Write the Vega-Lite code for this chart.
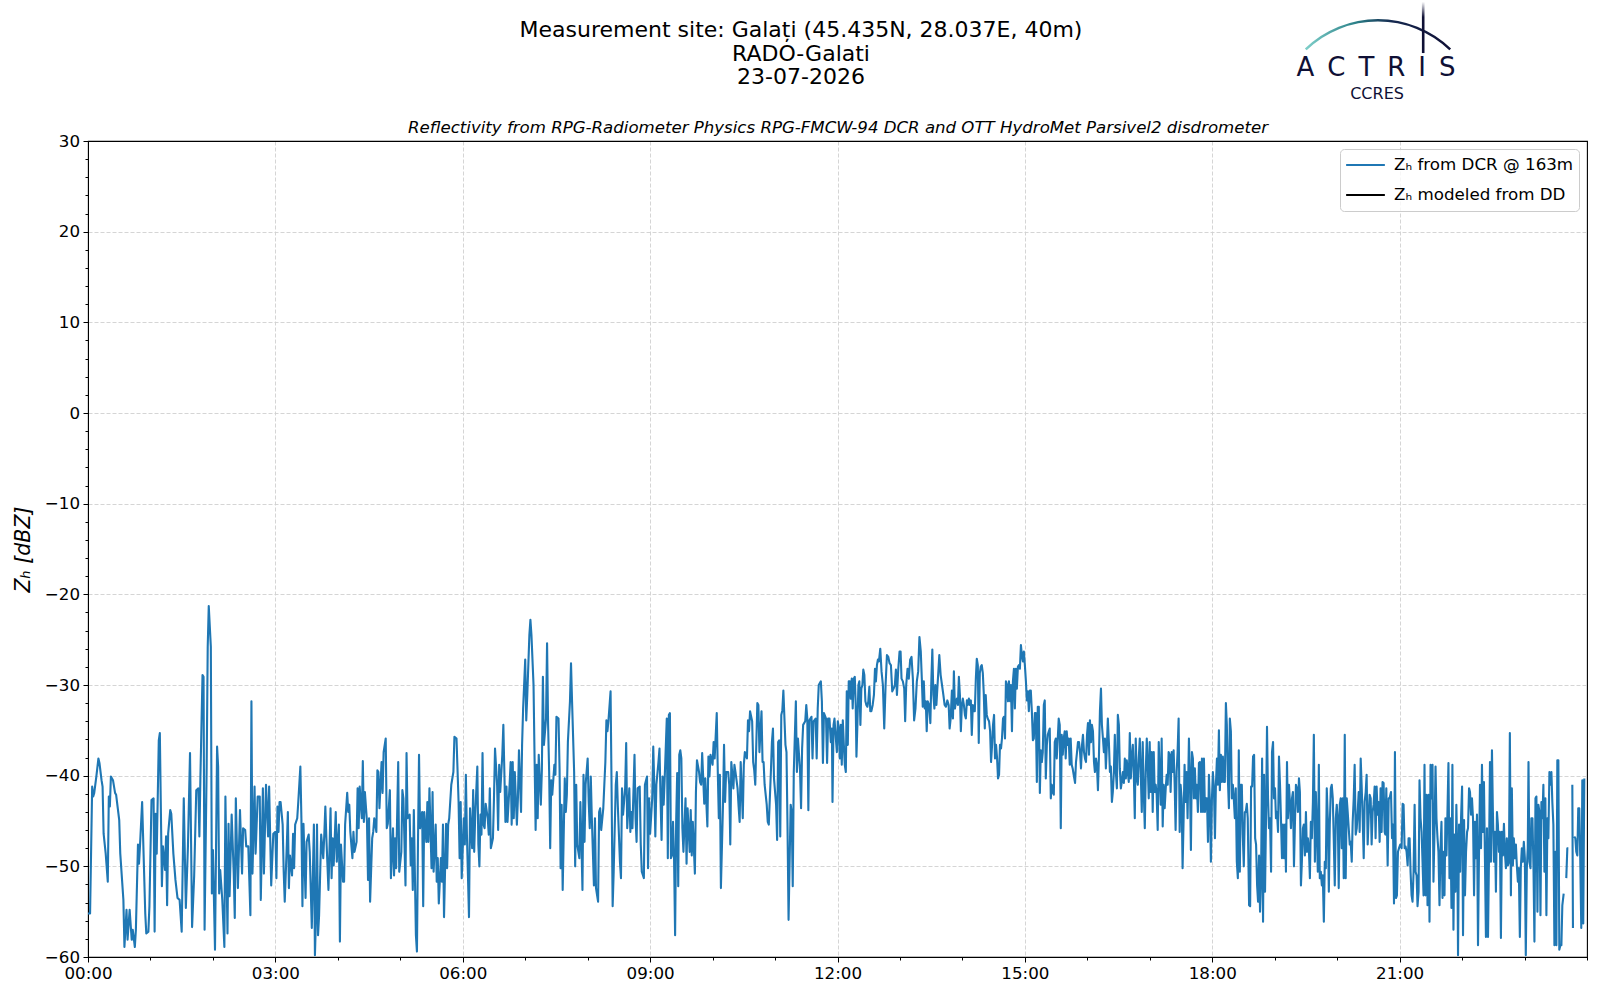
{
  "$schema": "https://vega.github.io/schema/vega-lite/v6.json",
  "width": 1499,
  "height": 816,
  "autosize": "none",
  "padding": {"left": 88, "top": 141, "right": 13, "bottom": 43},
  "background": "white",
  "config": {
    "font": "DejaVu Sans",
    "view": {"stroke": "black", "strokeWidth": 1.1},
    "axis": {
      "labelFont": "DejaVu Sans",
      "labelFontSize": 16.7,
      "labelColor": "black",
      "tickColor": "black",
      "domainColor": "black",
      "titleFont": "DejaVu Sans",
      "titleColor": "black",
      "titleFontWeight": "normal",
      "labelOverlap": false,
      "labelBound": false,
      "labelFlush": false
    },
    "legend": {
      "orient": "top-right",
      "offset": 8,
      "padding": 5,
      "symbolType": "stroke",
      "symbolStrokeWidth": 2,
      "symbolSize": 1500,
      "clipHeight": 22,
      "labelFont": "DejaVu Sans",
      "labelFontSize": 16.7,
      "labelColor": "black",
      "labelOffset": 8,
      "labelLimit": 400,
      "rowPadding": 8,
      "strokeColor": "#cccccc",
      "fillColor": "rgba(255,255,255,0.8)",
      "cornerRadius": 4
    }
  },
  "title": {
    "text": ["Measurement site: Galați (45.435N, 28.037E, 40m)", "RADO-Galati", "23-07-2026"],
    "anchor": "middle",
    "frame": "group",
    "dx": -36.5,
    "offset": -87.5,
    "font": "DejaVu Sans",
    "fontSize": 22,
    "fontWeight": "normal",
    "color": "black",
    "lineHeight": 23.6
  },
  "datasets": {
    "dcr": [
      {"minute": 0, "zh": -55.2}, {"minute": 2, "zh": -55.2}, {"minute": 4, "zh": -41.2}, {"minute": 5, "zh": -42.3}, {"minute": 6, "zh": -41.9}, {"minute": 8, "zh": -40.1}, {"minute": 10, "zh": -38.1}, {"minute": 11, "zh": -38.6}, {"minute": 13, "zh": -40.5}, {"minute": 14, "zh": -41.2}, {"minute": 15, "zh": -46.4}, {"minute": 17, "zh": -48.6}, {"minute": 19, "zh": -51.7}, {"minute": 20, "zh": -42.3}, {"minute": 21, "zh": -43.4}, {"minute": 22, "zh": -40.1}, {"minute": 24, "zh": -40.5}, {"minute": 26, "zh": -41.9}, {"minute": 27, "zh": -42.1}, {"minute": 30, "zh": -44.9}, {"minute": 31, "zh": -48.6}, {"minute": 34, "zh": -53.7}, {"minute": 35, "zh": -58.9}, {"minute": 37, "zh": -54.8}, {"minute": 38, "zh": -58.1}, {"minute": 40, "zh": -54.8}, {"minute": 42, "zh": -58.1}, {"minute": 43, "zh": -57.0}, {"minute": 45, "zh": -58.9}, {"minute": 46, "zh": -57.0}, {"minute": 48, "zh": -47.6}, {"minute": 49, "zh": -49.7}, {"minute": 50, "zh": -47.6}, {"minute": 52, "zh": -42.9}, {"minute": 55, "zh": -55.2}, {"minute": 56, "zh": -57.4}, {"minute": 58, "zh": -57.2}, {"minute": 59, "zh": -54.4}, {"minute": 61, "zh": -42.7}, {"minute": 63, "zh": -42.5}, {"minute": 64, "zh": -57.2}, {"minute": 65, "zh": -44.2}, {"minute": 66, "zh": -48.6}, {"minute": 68, "zh": -36.1}, {"minute": 69, "zh": -35.3}, {"minute": 71, "zh": -52.2}, {"minute": 72, "zh": -47.8}, {"minute": 74, "zh": -50.4}, {"minute": 75, "zh": -46.7}, {"minute": 76, "zh": -54.3}, {"minute": 77, "zh": -46.4}, {"minute": 79, "zh": -43.8}, {"minute": 80, "zh": -44.2}, {"minute": 82, "zh": -48.6}, {"minute": 84, "zh": -51.5}, {"minute": 86, "zh": -53.5}, {"minute": 88, "zh": -53.7}, {"minute": 90, "zh": -57.2}, {"minute": 92, "zh": -42.5}, {"minute": 94, "zh": -54.6}, {"minute": 96, "zh": -47.8}, {"minute": 98, "zh": -37.5}, {"minute": 100, "zh": -56.7}, {"minute": 102, "zh": -51.0}, {"minute": 104, "zh": -41.6}, {"minute": 106, "zh": -41.4}, {"minute": 107, "zh": -46.7}, {"minute": 108, "zh": -40.1}, {"minute": 110, "zh": -28.9}, {"minute": 111, "zh": -29.1}, {"minute": 112, "zh": -57.0}, {"minute": 114, "zh": -39.0}, {"minute": 115, "zh": -25.8}, {"minute": 116, "zh": -21.3}, {"minute": 118, "zh": -25.8}, {"minute": 119, "zh": -53.0}, {"minute": 120, "zh": -48.2}, {"minute": 122, "zh": -59.2}, {"minute": 124, "zh": -36.8}, {"minute": 125, "zh": -39.0}, {"minute": 126, "zh": -53.0}, {"minute": 127, "zh": -50.4}, {"minute": 129, "zh": -53.7}, {"minute": 131, "zh": -58.9}, {"minute": 132, "zh": -42.3}, {"minute": 134, "zh": -57.4}, {"minute": 135, "zh": -45.3}, {"minute": 136, "zh": -53.3}, {"minute": 138, "zh": -44.3}, {"minute": 140, "zh": -50.8}, {"minute": 141, "zh": -55.7}, {"minute": 142, "zh": -42.5}, {"minute": 144, "zh": -52.4}, {"minute": 146, "zh": -43.8}, {"minute": 148, "zh": -50.8}, {"minute": 149, "zh": -45.8}, {"minute": 151, "zh": -46.0}, {"minute": 152, "zh": -47.8}, {"minute": 154, "zh": -47.8}, {"minute": 156, "zh": -55.4}, {"minute": 157, "zh": -31.8}, {"minute": 158, "zh": -50.8}, {"minute": 160, "zh": -41.2}, {"minute": 161, "zh": -48.6}, {"minute": 163, "zh": -42.3}, {"minute": 165, "zh": -42.3}, {"minute": 166, "zh": -53.7}, {"minute": 168, "zh": -41.4}, {"minute": 169, "zh": -50.8}, {"minute": 171, "zh": -41.0}, {"minute": 173, "zh": -46.7}, {"minute": 174, "zh": -41.2}, {"minute": 176, "zh": -52.1}, {"minute": 178, "zh": -46.4}, {"minute": 180, "zh": -46.2},
      {"minute": 181, "zh": -51.3}, {"minute": 182, "zh": -43.4}, {"minute": 183, "zh": -46.2}, {"minute": 184, "zh": -42.9}, {"minute": 185, "zh": -42.9}, {"minute": 187, "zh": -45.4}, {"minute": 188, "zh": -50.6}, {"minute": 189, "zh": -53.9}, {"minute": 191, "zh": -47.6}, {"minute": 192, "zh": -44.0}, {"minute": 193, "zh": -52.4}, {"minute": 194, "zh": -48.8}, {"minute": 196, "zh": -51.0}, {"minute": 197, "zh": -46.4}, {"minute": 198, "zh": -50.2}, {"minute": 199, "zh": -45.4}, {"minute": 201, "zh": -44.7}, {"minute": 202, "zh": -42.9}, {"minute": 204, "zh": -39.0}, {"minute": 205, "zh": -44.7}, {"minute": 206, "zh": -54.4}, {"minute": 207, "zh": -45.3}, {"minute": 209, "zh": -53.5}, {"minute": 210, "zh": -47.3}, {"minute": 212, "zh": -46.5}, {"minute": 213, "zh": -48.4}, {"minute": 215, "zh": -56.8}, {"minute": 217, "zh": -45.4}, {"minute": 218, "zh": -59.8}, {"minute": 219, "zh": -55.7}, {"minute": 220, "zh": -45.4}, {"minute": 221, "zh": -57.6}, {"minute": 222, "zh": -55.4}, {"minute": 224, "zh": -46.5}, {"minute": 226, "zh": -49.1}, {"minute": 227, "zh": -46.5}, {"minute": 228, "zh": -43.4}, {"minute": 229, "zh": -46.9}, {"minute": 231, "zh": -52.6}, {"minute": 233, "zh": -43.6}, {"minute": 234, "zh": -51.3}, {"minute": 235, "zh": -46.9}, {"minute": 236, "zh": -49.9}, {"minute": 238, "zh": -44.0}, {"minute": 239, "zh": -49.5}, {"minute": 241, "zh": -45.4}, {"minute": 242, "zh": -58.3}, {"minute": 243, "zh": -47.6}, {"minute": 245, "zh": -51.7}, {"minute": 246, "zh": -51.7}, {"minute": 247, "zh": -45.4}, {"minute": 249, "zh": -41.9}, {"minute": 250, "zh": -44.0}, {"minute": 251, "zh": -43.2}, {"minute": 252, "zh": -46.2}, {"minute": 254, "zh": -49.1}, {"minute": 255, "zh": -46.2}, {"minute": 256, "zh": -48.4}, {"minute": 258, "zh": -47.3}, {"minute": 259, "zh": -41.4}, {"minute": 260, "zh": -45.8}, {"minute": 261, "zh": -41.2}, {"minute": 263, "zh": -44.7}, {"minute": 264, "zh": -38.4}, {"minute": 265, "zh": -45.1}, {"minute": 266, "zh": -41.8}, {"minute": 268, "zh": -45.1}, {"minute": 269, "zh": -51.5}, {"minute": 270, "zh": -44.7}, {"minute": 271, "zh": -53.9}, {"minute": 273, "zh": -46.9}, {"minute": 274, "zh": -46.2}, {"minute": 275, "zh": -44.7}, {"minute": 277, "zh": -46.2}, {"minute": 278, "zh": -39.4}, {"minute": 279, "zh": -39.6}, {"minute": 280, "zh": -43.6}, {"minute": 282, "zh": -38.5}, {"minute": 283, "zh": -41.9}, {"minute": 284, "zh": -37.4}, {"minute": 286, "zh": -35.9}, {"minute": 287, "zh": -45.8}, {"minute": 288, "zh": -45.3}, {"minute": 290, "zh": -41.6}, {"minute": 291, "zh": -51.3}, {"minute": 293, "zh": -45.8}, {"minute": 294, "zh": -51.0}, {"minute": 295, "zh": -46.9}, {"minute": 296, "zh": -50.2}, {"minute": 298, "zh": -38.5}, {"minute": 299, "zh": -50.6}, {"minute": 301, "zh": -48.4}, {"minute": 302, "zh": -41.6}, {"minute": 303, "zh": -42.5}, {"minute": 305, "zh": -52.1}, {"minute": 306, "zh": -37.5}, {"minute": 307, "zh": -44.7}, {"minute": 309, "zh": -44.3}, {"minute": 310, "zh": -49.9}, {"minute": 311, "zh": -46.9}, {"minute": 312, "zh": -52.6}, {"minute": 313, "zh": -43.8}, {"minute": 315, "zh": -57.6}, {"minute": 316, "zh": -59.4}, {"minute": 317, "zh": -47.3}, {"minute": 318, "zh": -37.7}, {"minute": 319, "zh": -45.8}, {"minute": 321, "zh": -44.0}, {"minute": 322, "zh": -54.4}, {"minute": 323, "zh": -44.0}, {"minute": 325, "zh": -47.3}, {"minute": 326, "zh": -42.9}, {"minute": 327, "zh": -47.3}, {"minute": 328, "zh": -41.4}, {"minute": 330, "zh": -50.2}, {"minute": 331, "zh": -41.8}, {"minute": 332, "zh": -50.6}, {"minute": 334, "zh": -45.4}, {"minute": 335, "zh": -51.7}, {"minute": 336, "zh": -49.1}, {"minute": 337, "zh": -54.1}, {"minute": 339, "zh": -49.1}, {"minute": 340, "zh": -51.7}, {"minute": 341, "zh": -45.4}, {"minute": 342, "zh": -55.6}, {"minute": 344, "zh": -45.3}, {"minute": 345, "zh": -50.2}, {"minute": 346, "zh": -45.4}, {"minute": 347, "zh": -44.7}, {"minute": 349, "zh": -41.0}, {"minute": 351, "zh": -39.6}, {"minute": 352, "zh": -35.7}, {"minute": 354, "zh": -35.9}, {"minute": 356, "zh": -42.9},
      {"minute": 357, "zh": -49.1}, {"minute": 358, "zh": -42.9}, {"minute": 359, "zh": -51.3}, {"minute": 361, "zh": -44.7}, {"minute": 362, "zh": -47.6}, {"minute": 363, "zh": -39.9}, {"minute": 364, "zh": -46.5}, {"minute": 366, "zh": -55.6}, {"minute": 367, "zh": -43.6}, {"minute": 369, "zh": -48.0}, {"minute": 370, "zh": -41.6}, {"minute": 371, "zh": -48.4}, {"minute": 372, "zh": -44.3}, {"minute": 374, "zh": -39.0}, {"minute": 375, "zh": -47.6}, {"minute": 376, "zh": -50.0}, {"minute": 377, "zh": -44.3}, {"minute": 378, "zh": -46.5}, {"minute": 379, "zh": -37.5}, {"minute": 380, "zh": -45.4}, {"minute": 381, "zh": -45.8}, {"minute": 382, "zh": -43.1}, {"minute": 384, "zh": -44.7}, {"minute": 385, "zh": -46.5}, {"minute": 386, "zh": -41.4}, {"minute": 387, "zh": -48.0}, {"minute": 389, "zh": -46.9}, {"minute": 390, "zh": -42.5}, {"minute": 391, "zh": -37.0}, {"minute": 393, "zh": -41.0}, {"minute": 394, "zh": -46.0}, {"minute": 395, "zh": -38.8}, {"minute": 396, "zh": -41.8}, {"minute": 398, "zh": -37.7}, {"minute": 399, "zh": -34.4}, {"minute": 401, "zh": -45.1}, {"minute": 402, "zh": -41.2}, {"minute": 403, "zh": -45.1}, {"minute": 405, "zh": -41.0}, {"minute": 406, "zh": -38.5}, {"minute": 407, "zh": -45.4}, {"minute": 408, "zh": -38.5}, {"minute": 409, "zh": -44.7}, {"minute": 410, "zh": -39.6}, {"minute": 412, "zh": -45.4}, {"minute": 413, "zh": -42.5}, {"minute": 414, "zh": -37.2}, {"minute": 416, "zh": -44.0}, {"minute": 417, "zh": -36.6}, {"minute": 418, "zh": -32.6}, {"minute": 420, "zh": -27.2}, {"minute": 421, "zh": -33.9}, {"minute": 422, "zh": -31.1}, {"minute": 424, "zh": -24.5}, {"minute": 425, "zh": -22.8}, {"minute": 426, "zh": -24.5}, {"minute": 428, "zh": -30.0}, {"minute": 429, "zh": -38.1}, {"minute": 430, "zh": -46.0}, {"minute": 431, "zh": -38.8}, {"minute": 432, "zh": -44.7}, {"minute": 433, "zh": -37.7}, {"minute": 435, "zh": -43.2}, {"minute": 436, "zh": -39.4}, {"minute": 437, "zh": -29.1}, {"minute": 438, "zh": -36.6}, {"minute": 440, "zh": -33.7}, {"minute": 441, "zh": -25.4}, {"minute": 442, "zh": -34.4}, {"minute": 443, "zh": -39.6}, {"minute": 444, "zh": -48.0}, {"minute": 445, "zh": -40.5}, {"minute": 446, "zh": -42.1}, {"minute": 448, "zh": -38.8}, {"minute": 449, "zh": -39.9}, {"minute": 450, "zh": -33.5}, {"minute": 452, "zh": -33.7}, {"minute": 453, "zh": -39.2}, {"minute": 454, "zh": -50.2}, {"minute": 455, "zh": -43.2}, {"minute": 456, "zh": -52.6}, {"minute": 458, "zh": -40.3}, {"minute": 459, "zh": -44.0}, {"minute": 460, "zh": -42.1}, {"minute": 461, "zh": -36.3}, {"minute": 463, "zh": -31.8}, {"minute": 464, "zh": -27.6}, {"minute": 465, "zh": -31.8}, {"minute": 467, "zh": -39.6}, {"minute": 468, "zh": -50.0}, {"minute": 469, "zh": -41.0}, {"minute": 470, "zh": -47.6}, {"minute": 472, "zh": -49.1}, {"minute": 473, "zh": -42.9}, {"minute": 474, "zh": -47.3}, {"minute": 475, "zh": -52.6}, {"minute": 476, "zh": -39.9}, {"minute": 477, "zh": -47.3}, {"minute": 478, "zh": -41.0}, {"minute": 480, "zh": -38.1}, {"minute": 481, "zh": -42.9}, {"minute": 482, "zh": -45.8}, {"minute": 483, "zh": -40.1}, {"minute": 484, "zh": -44.7}, {"minute": 486, "zh": -52.1}, {"minute": 487, "zh": -44.7}, {"minute": 488, "zh": -52.4}, {"minute": 490, "zh": -53.9}, {"minute": 491, "zh": -44.0}, {"minute": 492, "zh": -43.6}, {"minute": 493, "zh": -46.0}, {"minute": 495, "zh": -43.6}, {"minute": 496, "zh": -41.0}, {"minute": 497, "zh": -38.5}, {"minute": 498, "zh": -33.9}, {"minute": 499, "zh": -35.1}, {"minute": 500, "zh": -33.9}, {"minute": 502, "zh": -30.7}, {"minute": 503, "zh": -41.8}, {"minute": 504, "zh": -54.4}, {"minute": 505, "zh": -50.6}, {"minute": 507, "zh": -41.0}, {"minute": 508, "zh": -39.6}, {"minute": 509, "zh": -43.4}, {"minute": 511, "zh": -49.5}, {"minute": 512, "zh": -51.3}, {"minute": 513, "zh": -41.4}, {"minute": 514, "zh": -44.3}, {"minute": 516, "zh": -41.4}, {"minute": 517, "zh": -36.4}, {"minute": 518, "zh": -45.8}, {"minute": 520, "zh": -41.4}, {"minute": 521, "zh": -46.2}, {"minute": 522, "zh": -44.0}, {"minute": 523, "zh": -45.8}, {"minute": 525, "zh": -37.7}, {"minute": 526, "zh": -44.7}, {"minute": 527, "zh": -47.3}, {"minute": 528, "zh": -41.4}, {"minute": 530, "zh": -41.2}, {"minute": 531, "zh": -47.6}, {"minute": 532, "zh": -50.6}, {"minute": 534, "zh": -51.3}, {"minute": 535, "zh": -41.0},
      {"minute": 537, "zh": -40.1}, {"minute": 538, "zh": -50.2}, {"minute": 539, "zh": -42.5}, {"minute": 540, "zh": -46.4}, {"minute": 542, "zh": -42.5}, {"minute": 543, "zh": -36.8}, {"minute": 544, "zh": -41.0}, {"minute": 545, "zh": -46.7}, {"minute": 546, "zh": -41.0}, {"minute": 548, "zh": -38.5}, {"minute": 549, "zh": -37.0}, {"minute": 550, "zh": -42.5}, {"minute": 551, "zh": -47.1}, {"minute": 552, "zh": -40.1}, {"minute": 553, "zh": -43.2}, {"minute": 554, "zh": -40.3}, {"minute": 556, "zh": -33.7}, {"minute": 557, "zh": -49.1}, {"minute": 558, "zh": -33.3}, {"minute": 559, "zh": -33.1}, {"minute": 560, "zh": -49.1}, {"minute": 561, "zh": -48.8}, {"minute": 562, "zh": -45.1}, {"minute": 563, "zh": -49.1}, {"minute": 564, "zh": -57.6}, {"minute": 565, "zh": -45.1}, {"minute": 566, "zh": -39.7}, {"minute": 567, "zh": -52.2}, {"minute": 568, "zh": -37.7}, {"minute": 569, "zh": -37.2}, {"minute": 570, "zh": -38.1}, {"minute": 571, "zh": -45.8}, {"minute": 572, "zh": -48.4}, {"minute": 574, "zh": -42.5}, {"minute": 575, "zh": -49.7}, {"minute": 576, "zh": -43.6}, {"minute": 578, "zh": -48.4}, {"minute": 579, "zh": -43.8}, {"minute": 580, "zh": -48.8}, {"minute": 581, "zh": -45.1}, {"minute": 583, "zh": -50.8}, {"minute": 584, "zh": -41.8}, {"minute": 585, "zh": -38.3}, {"minute": 587, "zh": -39.6}, {"minute": 588, "zh": -40.7}, {"minute": 589, "zh": -41.0}, {"minute": 590, "zh": -37.5}, {"minute": 592, "zh": -43.1}, {"minute": 593, "zh": -40.3}, {"minute": 595, "zh": -45.6}, {"minute": 596, "zh": -37.9}, {"minute": 597, "zh": -40.1}, {"minute": 598, "zh": -37.7}, {"minute": 600, "zh": -38.8}, {"minute": 601, "zh": -36.3}, {"minute": 602, "zh": -38.1}, {"minute": 604, "zh": -33.1}, {"minute": 605, "zh": -39.6}, {"minute": 606, "zh": -44.7}, {"minute": 607, "zh": -39.9}, {"minute": 608, "zh": -52.4}, {"minute": 610, "zh": -43.2}, {"minute": 611, "zh": -36.6}, {"minute": 612, "zh": -42.9}, {"minute": 613, "zh": -39.6}, {"minute": 615, "zh": -39.6}, {"minute": 616, "zh": -41.0}, {"minute": 617, "zh": -47.6}, {"minute": 618, "zh": -38.5}, {"minute": 620, "zh": -41.4}, {"minute": 621, "zh": -38.8}, {"minute": 622, "zh": -39.6}, {"minute": 624, "zh": -41.4}, {"minute": 625, "zh": -43.4}, {"minute": 626, "zh": -45.1}, {"minute": 627, "zh": -38.5}, {"minute": 629, "zh": -44.7}, {"minute": 630, "zh": -38.8}, {"minute": 631, "zh": -37.4}, {"minute": 633, "zh": -38.1}, {"minute": 634, "zh": -33.9}, {"minute": 635, "zh": -35.1}, {"minute": 636, "zh": -32.9}, {"minute": 638, "zh": -34.0}, {"minute": 639, "zh": -38.5}, {"minute": 640, "zh": -39.4}, {"minute": 641, "zh": -41.0}, {"minute": 643, "zh": -32.0}, {"minute": 644, "zh": -32.2}, {"minute": 645, "zh": -37.4}, {"minute": 647, "zh": -32.9}, {"minute": 648, "zh": -38.5}, {"minute": 649, "zh": -38.5}, {"minute": 650, "zh": -41.0}, {"minute": 652, "zh": -43.2}, {"minute": 653, "zh": -45.1}, {"minute": 654, "zh": -45.4}, {"minute": 656, "zh": -39.6}, {"minute": 657, "zh": -36.3}, {"minute": 658, "zh": -34.8}, {"minute": 659, "zh": -40.3}, {"minute": 661, "zh": -43.2}, {"minute": 662, "zh": -47.1}, {"minute": 663, "zh": -36.3}, {"minute": 664, "zh": -36.1}, {"minute": 665, "zh": -46.7}, {"minute": 666, "zh": -33.3}, {"minute": 667, "zh": -32.8}, {"minute": 668, "zh": -30.6}, {"minute": 670, "zh": -36.6}, {"minute": 671, "zh": -37.4}, {"minute": 672, "zh": -45.8}, {"minute": 673, "zh": -55.9}, {"minute": 675, "zh": -43.2}, {"minute": 676, "zh": -44.0}, {"minute": 677, "zh": -52.2}, {"minute": 678, "zh": -39.6}, {"minute": 680, "zh": -31.8}, {"minute": 681, "zh": -39.6}, {"minute": 682, "zh": -35.9}, {"minute": 684, "zh": -39.4}, {"minute": 685, "zh": -43.6}, {"minute": 686, "zh": -37.0}, {"minute": 687, "zh": -34.4}, {"minute": 689, "zh": -34.0}, {"minute": 690, "zh": -32.2}, {"minute": 691, "zh": -33.7}, {"minute": 692, "zh": -43.8}, {"minute": 693, "zh": -33.9}, {"minute": 695, "zh": -33.5}, {"minute": 696, "zh": -38.1}, {"minute": 697, "zh": -34.0}, {"minute": 699, "zh": -33.7}, {"minute": 700, "zh": -38.1}, {"minute": 701, "zh": -32.6}, {"minute": 702, "zh": -30.0}, {"minute": 704, "zh": -29.6}, {"minute": 705, "zh": -31.8}, {"minute": 706, "zh": -38.6}, {"minute": 707, "zh": -33.1}, {"minute": 709, "zh": -33.7}, {"minute": 710, "zh": -38.6}, {"minute": 711, "zh": -33.7},
      {"minute": 712.3, "zh": -33.7}, {"minute": 713.6, "zh": -36.3}, {"minute": 714.6, "zh": -34.8}, {"minute": 715.2, "zh": -42.9}, {"minute": 716.2, "zh": -34.4}, {"minute": 717.1, "zh": -33.7}, {"minute": 718.4, "zh": -35.9}, {"minute": 719.4, "zh": -37.4}, {"minute": 720.3, "zh": -34.0}, {"minute": 721.3, "zh": -34.8}, {"minute": 722.2, "zh": -38.1}, {"minute": 723.2, "zh": -34.4}, {"minute": 724.1, "zh": -38.8}, {"minute": 725.1, "zh": -33.9}, {"minute": 726.1, "zh": -36.6}, {"minute": 727.0, "zh": -38.8}, {"minute": 728.0, "zh": -39.6}, {"minute": 728.9, "zh": -30.7}, {"minute": 729.9, "zh": -36.6}, {"minute": 730.8, "zh": -29.6}, {"minute": 731.8, "zh": -29.6}, {"minute": 732.7, "zh": -31.5}, {"minute": 733.7, "zh": -29.3}, {"minute": 734.6, "zh": -32.6}, {"minute": 735.6, "zh": -29.3}, {"minute": 736.6, "zh": -29.1}, {"minute": 737.5, "zh": -32.2}, {"minute": 738.2, "zh": -37.9}, {"minute": 739.1, "zh": -34.4}, {"minute": 740.1, "zh": -30.0}, {"minute": 741.0, "zh": -29.6}, {"minute": 742.0, "zh": -34.4}, {"minute": 742.9, "zh": -30.4}, {"minute": 743.9, "zh": -30.0}, {"minute": 744.8, "zh": -28.3}, {"minute": 745.8, "zh": -28.9}, {"minute": 746.8, "zh": -31.8}, {"minute": 747.7, "zh": -32.2}, {"minute": 748.7, "zh": -32.4}, {"minute": 749.6, "zh": -31.8}, {"minute": 750.6, "zh": -30.2}, {"minute": 751.5, "zh": -32.9}, {"minute": 752.5, "zh": -32.9}, {"minute": 753.8, "zh": -32.2}, {"minute": 755.0, "zh": -31.1}, {"minute": 756.0, "zh": -28.2}, {"minute": 756.9, "zh": -29.6}, {"minute": 757.9, "zh": -27.8}, {"minute": 758.8, "zh": -27.2}, {"minute": 759.8, "zh": -27.4}, {"minute": 761.1, "zh": -26.0}, {"minute": 762.3, "zh": -28.5}, {"minute": 763.6, "zh": -30.0}, {"minute": 764.9, "zh": -34.8}, {"minute": 766.2, "zh": -30.0}, {"minute": 767.5, "zh": -26.7}, {"minute": 768.8, "zh": -26.9}, {"minute": 770.0, "zh": -27.6}, {"minute": 771.3, "zh": -27.8}, {"minute": 772.6, "zh": -30.7}, {"minute": 773.9, "zh": -30.4}, {"minute": 775.1, "zh": -30.0}, {"minute": 776.1, "zh": -28.3}, {"minute": 777.1, "zh": -31.1}, {"minute": 778.4, "zh": -28.2}, {"minute": 779.6, "zh": -26.3}, {"minute": 780.6, "zh": -26.3}, {"minute": 781.5, "zh": -29.3}, {"minute": 782.8, "zh": -29.6}, {"minute": 784.1, "zh": -30.4}, {"minute": 785.0, "zh": -34.0}, {"minute": 786.0, "zh": -30.0}, {"minute": 787.3, "zh": -28.2}, {"minute": 788.5, "zh": -29.3}, {"minute": 789.8, "zh": -27.2}, {"minute": 791.1, "zh": -26.9}, {"minute": 792.4, "zh": -29.3}, {"minute": 793.6, "zh": -33.9}, {"minute": 794.9, "zh": -32.6}, {"minute": 796.2, "zh": -29.6}, {"minute": 797.5, "zh": -28.5}, {"minute": 798.7, "zh": -24.7}, {"minute": 800.0, "zh": -26.3}, {"minute": 801.0, "zh": -29.3}, {"minute": 801.9, "zh": -32.4}, {"minute": 802.9, "zh": -29.6}, {"minute": 803.8, "zh": -32.6}, {"minute": 804.8, "zh": -31.8}, {"minute": 805.7, "zh": -35.1}, {"minute": 806.7, "zh": -31.8}, {"minute": 808.0, "zh": -32.2}, {"minute": 809.2, "zh": -34.2}, {"minute": 810.2, "zh": -29.3}, {"minute": 811.1, "zh": -26.1}, {"minute": 812.1, "zh": -31.1}, {"minute": 813.1, "zh": -32.6}, {"minute": 814.0, "zh": -30.0}, {"minute": 815.0, "zh": -32.2}, {"minute": 815.9, "zh": -30.4}, {"minute": 816.9, "zh": -28.5}, {"minute": 817.8, "zh": -26.7}, {"minute": 819.1, "zh": -28.9}, {"minute": 820.4, "zh": -30.0}, {"minute": 821.7, "zh": -31.1}, {"minute": 822.9, "zh": -32.2}, {"minute": 824.2, "zh": -32.4}, {"minute": 825.5, "zh": -31.7}, {"minute": 826.8, "zh": -32.2}, {"minute": 827.7, "zh": -34.8}, {"minute": 828.7, "zh": -33.7}, {"minute": 829.9, "zh": -30.6}, {"minute": 830.9, "zh": -33.7}, {"minute": 831.8, "zh": -28.5}, {"minute": 832.8, "zh": -32.6}, {"minute": 833.8, "zh": -31.8}, {"minute": 834.7, "zh": -31.5}, {"minute": 835.7, "zh": -32.2}, {"minute": 836.6, "zh": -29.1}, {"minute": 837.6, "zh": -31.1}, {"minute": 838.5, "zh": -35.1}, {"minute": 839.5, "zh": -32.2}, {"minute": 840.4, "zh": -31.5}, {"minute": 841.4, "zh": -32.2}, {"minute": 842.4, "zh": -33.3}, {"minute": 843.3, "zh": -33.7}, {"minute": 844.3, "zh": -31.7}, {"minute": 845.2, "zh": -32.2}, {"minute": 846.2, "zh": -31.5}, {"minute": 847.1, "zh": -32.2}, {"minute": 848.1, "zh": -31.7}, {"minute": 849.0, "zh": -35.5}, {"minute": 850.0, "zh": -32.2}, {"minute": 851.0, "zh": -32.9}, {"minute": 851.9, "zh": -32.9}, {"minute": 852.9, "zh": -29.3}, {"minute": 853.8, "zh": -27.1}, {"minute": 854.8, "zh": -27.8}, {"minute": 855.7, "zh": -36.4}, {"minute": 856.7, "zh": -28.7}, {"minute": 857.6, "zh": -28.0}, {"minute": 858.6, "zh": -27.8}, {"minute": 859.6, "zh": -28.7}, {"minute": 860.5, "zh": -30.9}, {"minute": 861.5, "zh": -34.8}, {"minute": 862.4, "zh": -31.1}, {"minute": 863.4, "zh": -33.3}, {"minute": 864.3, "zh": -33.7}, {"minute": 865.6, "zh": -34.0}, {"minute": 866.6, "zh": -35.1}, {"minute": 867.5, "zh": -38.5}, {"minute": 868.5, "zh": -36.6}, {"minute": 869.4, "zh": -34.4}, {"minute": 870.4, "zh": -33.3}, {"minute": 871.3, "zh": -38.1}, {"minute": 872.3, "zh": -36.6}, {"minute": 873.3, "zh": -38.1}, {"minute": 874.2, "zh": -40.3}, {"minute": 875.2, "zh": -39.9}, {"minute": 876.1, "zh": -36.6}, {"minute": 877.1, "zh": -37.0}, {"minute": 878.0, "zh": -35.9}, {"minute": 879.0, "zh": -33.7}, {"minute": 879.9, "zh": -33.5}, {"minute": 880.9, "zh": -35.9}, {"minute": 881.8, "zh": -29.6}, {"minute": 882.8, "zh": -30.0}, {"minute": 883.8, "zh": -31.8}, {"minute": 884.7, "zh": -29.6}, {"minute": 885.7, "zh": -31.8}, {"minute": 886.6, "zh": -30.0}, {"minute": 887.6, "zh": -35.1}, {"minute": 888.5, "zh": -29.6}, {"minute": 889.5, "zh": -28.2},
      {"minute": 890.4, "zh": -32.6}, {"minute": 891.4, "zh": -28.2}, {"minute": 892.3, "zh": -30.4}, {"minute": 893.3, "zh": -28.0}, {"minute": 894.3, "zh": -27.8}, {"minute": 895.2, "zh": -28.2}, {"minute": 896.2, "zh": -25.6}, {"minute": 897.1, "zh": -26.7}, {"minute": 898.1, "zh": -27.4}, {"minute": 899.0, "zh": -26.3}, {"minute": 900.0, "zh": -27.8}, {"minute": 901.0, "zh": -29.6}, {"minute": 901.9, "zh": -31.7}, {"minute": 902.9, "zh": -30.7}, {"minute": 903.8, "zh": -32.9}, {"minute": 904.8, "zh": -30.6}, {"minute": 905.7, "zh": -30.6}, {"minute": 906.7, "zh": -32.9}, {"minute": 907.7, "zh": -36.1}, {"minute": 908.6, "zh": -35.9}, {"minute": 909.6, "zh": -33.1}, {"minute": 910.5, "zh": -33.1}, {"minute": 911.5, "zh": -40.7}, {"minute": 912.4, "zh": -32.4}, {"minute": 913.4, "zh": -32.4}, {"minute": 914.4, "zh": -41.9}, {"minute": 915.3, "zh": -37.2}, {"minute": 916.3, "zh": -38.5}, {"minute": 917.2, "zh": -37.4}, {"minute": 918.2, "zh": -32.2}, {"minute": 919.1, "zh": -31.7}, {"minute": 920.1, "zh": -40.3}, {"minute": 921.1, "zh": -36.6}, {"minute": 922.0, "zh": -35.5}, {"minute": 923.0, "zh": -35.1}, {"minute": 923.9, "zh": -34.8}, {"minute": 924.9, "zh": -42.5}, {"minute": 925.8, "zh": -41.0}, {"minute": 926.8, "zh": -41.8}, {"minute": 927.8, "zh": -42.1}, {"minute": 928.7, "zh": -36.3}, {"minute": 929.7, "zh": -35.9}, {"minute": 930.6, "zh": -38.1}, {"minute": 931.6, "zh": -35.9}, {"minute": 932.5, "zh": -33.7}, {"minute": 933.5, "zh": -34.4}, {"minute": 934.5, "zh": -45.8}, {"minute": 935.4, "zh": -35.5}, {"minute": 936.4, "zh": -37.7}, {"minute": 937.3, "zh": -35.9}, {"minute": 938.3, "zh": -35.1}, {"minute": 939.2, "zh": -38.1}, {"minute": 940.2, "zh": -35.1}, {"minute": 941.2, "zh": -36.6}, {"minute": 942.1, "zh": -35.9}, {"minute": 943.1, "zh": -38.8}, {"minute": 944.0, "zh": -35.9}, {"minute": 945.0, "zh": -38.8}, {"minute": 945.9, "zh": -39.2}, {"minute": 946.9, "zh": -39.9}, {"minute": 948.2, "zh": -40.8}, {"minute": 949.1, "zh": -38.5}, {"minute": 950.1, "zh": -37.4}, {"minute": 951.0, "zh": -36.3}, {"minute": 952.0, "zh": -36.3}, {"minute": 953.0, "zh": -37.4}, {"minute": 953.9, "zh": -39.2}, {"minute": 954.9, "zh": -36.6}, {"minute": 955.8, "zh": -35.5}, {"minute": 956.8, "zh": -37.4}, {"minute": 957.7, "zh": -38.1}, {"minute": 958.7, "zh": -38.5}, {"minute": 959.7, "zh": -35.5}, {"minute": 960.6, "zh": -34.2}, {"minute": 961.6, "zh": -37.7}, {"minute": 962.5, "zh": -33.9}, {"minute": 963.5, "zh": -36.3}, {"minute": 964.4, "zh": -34.4}, {"minute": 965.4, "zh": -35.1}, {"minute": 966.4, "zh": -38.5}, {"minute": 967.3, "zh": -39.6}, {"minute": 968.3, "zh": -38.1}, {"minute": 969.2, "zh": -38.8}, {"minute": 970.2, "zh": -41.6}, {"minute": 971.1, "zh": -38.1}, {"minute": 972.1, "zh": -32.9}, {"minute": 973.1, "zh": -30.4}, {"minute": 974.0, "zh": -34.4}, {"minute": 975.0, "zh": -35.9}, {"minute": 975.9, "zh": -37.4}, {"minute": 976.9, "zh": -35.9}, {"minute": 977.8, "zh": -39.2}, {"minute": 978.8, "zh": -36.6}, {"minute": 979.7, "zh": -33.7}, {"minute": 980.7, "zh": -36.3}, {"minute": 981.7, "zh": -39.6}, {"minute": 982.6, "zh": -39.0}, {"minute": 983.6, "zh": -42.9}, {"minute": 984.5, "zh": -41.8}, {"minute": 985.5, "zh": -39.6}, {"minute": 986.4, "zh": -35.5}, {"minute": 987.4, "zh": -39.6}, {"minute": 988.4, "zh": -41.4}, {"minute": 989.3, "zh": -33.3}, {"minute": 990.3, "zh": -34.4}, {"minute": 991.2, "zh": -39.2}, {"minute": 992.2, "zh": -41.4}, {"minute": 993.1, "zh": -40.7}, {"minute": 994.1, "zh": -39.6}, {"minute": 995.1, "zh": -40.8}, {"minute": 996.0, "zh": -38.1}, {"minute": 997.0, "zh": -40.3}, {"minute": 997.9, "zh": -38.3}, {"minute": 998.9, "zh": -39.6}, {"minute": 999.8, "zh": -40.7}, {"minute": 1000.8, "zh": -35.3}, {"minute": 1001.8, "zh": -40.3}, {"minute": 1002.7, "zh": -38.1}, {"minute": 1003.7, "zh": -36.6}, {"minute": 1004.6, "zh": -39.6}, {"minute": 1005.6, "zh": -44.7}, {"minute": 1006.5, "zh": -35.9}, {"minute": 1007.5, "zh": -40.3}, {"minute": 1008.5, "zh": -41.0}, {"minute": 1009.4, "zh": -38.1}, {"minute": 1010.4, "zh": -35.9}, {"minute": 1011.3, "zh": -39.6}, {"minute": 1012.3, "zh": -44.0}, {"minute": 1013.2, "zh": -36.3}, {"minute": 1014.2, "zh": -41.8}, {"minute": 1015.2, "zh": -45.8}, {"minute": 1016.1, "zh": -39.6}, {"minute": 1017.1, "zh": -35.9}, {"minute": 1018.0, "zh": -38.8}, {"minute": 1019.0, "zh": -42.5}, {"minute": 1019.9, "zh": -36.3}, {"minute": 1020.9, "zh": -41.8}, {"minute": 1021.9, "zh": -37.4}, {"minute": 1022.8, "zh": -44.0}, {"minute": 1023.8, "zh": -37.4}, {"minute": 1024.7, "zh": -41.8}, {"minute": 1025.7, "zh": -41.0}, {"minute": 1026.6, "zh": -42.1}, {"minute": 1027.6, "zh": -46.0}, {"minute": 1028.6, "zh": -36.3}, {"minute": 1029.5, "zh": -39.6}, {"minute": 1030.5, "zh": -43.2}, {"minute": 1031.4, "zh": -35.9}, {"minute": 1032.4, "zh": -45.6}, {"minute": 1033.3, "zh": -41.0}, {"minute": 1034.3, "zh": -43.6}, {"minute": 1035.3, "zh": -41.4}, {"minute": 1036.2, "zh": -39.9}, {"minute": 1037.2, "zh": -41.0}, {"minute": 1038.1, "zh": -37.4}, {"minute": 1039.1, "zh": -37.7}, {"minute": 1040.0, "zh": -41.8}, {"minute": 1041.0, "zh": -37.4}, {"minute": 1042.0, "zh": -39.6}, {"minute": 1042.9, "zh": -37.2}, {"minute": 1043.9, "zh": -41.0}, {"minute": 1044.8, "zh": -46.0}, {"minute": 1045.8, "zh": -39.6}, {"minute": 1046.7, "zh": -37.4}, {"minute": 1047.7, "zh": -33.7}, {"minute": 1048.7, "zh": -46.2}, {"minute": 1049.6, "zh": -41.0}, {"minute": 1050.6, "zh": -42.5}, {"minute": 1051.5, "zh": -50.2}, {"minute": 1052.5, "zh": -44.7}, {"minute": 1053.4, "zh": -38.8}, {"minute": 1054.4, "zh": -42.9}, {"minute": 1055.4, "zh": -39.6}, {"minute": 1056.3, "zh": -44.7}, {"minute": 1057.6, "zh": -35.9}, {"minute": 1058.5, "zh": -39.9}, {"minute": 1059.5, "zh": -48.2}, {"minute": 1060.5, "zh": -37.4}, {"minute": 1061.4, "zh": -38.1}, {"minute": 1062.4, "zh": -42.5}, {"minute": 1063.3, "zh": -39.2}, {"minute": 1064.3, "zh": -42.5}, {"minute": 1065.2, "zh": -41.0}, {"minute": 1066.2, "zh": -44.0}, {"minute": 1067.2, "zh": -38.6}, {"minute": 1068.1, "zh": -38.5},
      {"minute": 1069.2, "zh": -44.0}, {"minute": 1070.1, "zh": -38.1}, {"minute": 1071.1, "zh": -44.0}, {"minute": 1072.0, "zh": -38.1}, {"minute": 1073.0, "zh": -44.0}, {"minute": 1073.9, "zh": -42.5}, {"minute": 1074.9, "zh": -42.5}, {"minute": 1075.9, "zh": -47.3}, {"minute": 1076.8, "zh": -39.9}, {"minute": 1077.8, "zh": -43.2}, {"minute": 1078.7, "zh": -49.5}, {"minute": 1079.7, "zh": -42.5}, {"minute": 1080.6, "zh": -39.6}, {"minute": 1081.6, "zh": -41.4}, {"minute": 1082.6, "zh": -46.9}, {"minute": 1083.5, "zh": -41.0}, {"minute": 1084.5, "zh": -38.1}, {"minute": 1085.4, "zh": -41.0}, {"minute": 1086.4, "zh": -35.0}, {"minute": 1087.3, "zh": -41.6}, {"minute": 1088.3, "zh": -37.7}, {"minute": 1089.3, "zh": -40.7}, {"minute": 1090.2, "zh": -37.9}, {"minute": 1091.2, "zh": -40.7}, {"minute": 1092.1, "zh": -40.7}, {"minute": 1093.1, "zh": -32.0}, {"minute": 1094.0, "zh": -34.4}, {"minute": 1095.0, "zh": -40.3}, {"minute": 1096.0, "zh": -43.6}, {"minute": 1096.9, "zh": -33.7}, {"minute": 1097.9, "zh": -35.1}, {"minute": 1098.8, "zh": -42.5}, {"minute": 1099.8, "zh": -41.0}, {"minute": 1100.7, "zh": -42.5}, {"minute": 1101.7, "zh": -44.7}, {"minute": 1102.6, "zh": -41.4}, {"minute": 1103.6, "zh": -49.5}, {"minute": 1104.6, "zh": -51.3}, {"minute": 1105.5, "zh": -37.2}, {"minute": 1106.5, "zh": -50.6}, {"minute": 1107.4, "zh": -41.0}, {"minute": 1108.4, "zh": -41.0}, {"minute": 1109.3, "zh": -46.5}, {"minute": 1110.3, "zh": -50.0}, {"minute": 1111.3, "zh": -44.0}, {"minute": 1112.2, "zh": -44.0}, {"minute": 1113.2, "zh": -43.1}, {"minute": 1114.1, "zh": -44.7}, {"minute": 1115.4, "zh": -54.3}, {"minute": 1116.4, "zh": -54.4}, {"minute": 1117.3, "zh": -41.2}, {"minute": 1118.3, "zh": -41.2}, {"minute": 1119.2, "zh": -37.9}, {"minute": 1120.2, "zh": -37.7}, {"minute": 1121.2, "zh": -46.9}, {"minute": 1122.1, "zh": -47.6}, {"minute": 1123.1, "zh": -52.1}, {"minute": 1124.0, "zh": -53.9}, {"minute": 1125.0, "zh": -48.8}, {"minute": 1125.9, "zh": -55.0}, {"minute": 1126.9, "zh": -51.3}, {"minute": 1127.9, "zh": -38.1}, {"minute": 1128.8, "zh": -56.1}, {"minute": 1129.8, "zh": -39.9}, {"minute": 1130.7, "zh": -52.8}, {"minute": 1131.7, "zh": -44.3}, {"minute": 1132.6, "zh": -34.6}, {"minute": 1133.6, "zh": -42.5}, {"minute": 1134.5, "zh": -45.8}, {"minute": 1135.5, "zh": -44.7}, {"minute": 1136.5, "zh": -50.6}, {"minute": 1137.4, "zh": -37.4}, {"minute": 1138.4, "zh": -36.3}, {"minute": 1139.3, "zh": -42.5}, {"minute": 1140.3, "zh": -41.4}, {"minute": 1141.2, "zh": -44.7}, {"minute": 1142.2, "zh": -44.0}, {"minute": 1143.2, "zh": -46.2}, {"minute": 1144.1, "zh": -37.9}, {"minute": 1145.1, "zh": -41.0}, {"minute": 1146.0, "zh": -44.7}, {"minute": 1147.0, "zh": -49.1}, {"minute": 1147.9, "zh": -45.4}, {"minute": 1148.9, "zh": -49.1}, {"minute": 1149.9, "zh": -45.4}, {"minute": 1150.8, "zh": -50.6}, {"minute": 1151.8, "zh": -38.5}, {"minute": 1152.7, "zh": -44.7}, {"minute": 1153.7, "zh": -41.0}, {"minute": 1154.6, "zh": -42.9}, {"minute": 1155.6, "zh": -45.8}, {"minute": 1156.6, "zh": -42.5}, {"minute": 1157.5, "zh": -41.8}, {"minute": 1158.5, "zh": -50.0}, {"minute": 1159.4, "zh": -45.4}, {"minute": 1160.4, "zh": -41.0}, {"minute": 1161.3, "zh": -41.4}, {"minute": 1162.3, "zh": -44.0}, {"minute": 1163.3, "zh": -40.3}, {"minute": 1164.2, "zh": -41.8}, {"minute": 1165.2, "zh": -52.1}, {"minute": 1166.1, "zh": -49.5}, {"minute": 1167.1, "zh": -45.8}, {"minute": 1168.0, "zh": -45.4}, {"minute": 1169.0, "zh": -48.8}, {"minute": 1170.0, "zh": -44.0}, {"minute": 1170.9, "zh": -48.4}, {"minute": 1171.9, "zh": -46.9}, {"minute": 1172.8, "zh": -48.0}, {"minute": 1173.8, "zh": -51.3}, {"minute": 1174.7, "zh": -45.1}, {"minute": 1175.7, "zh": -46.9}, {"minute": 1176.7, "zh": -42.9}, {"minute": 1177.6, "zh": -35.5}, {"minute": 1178.6, "zh": -49.5}, {"minute": 1179.5, "zh": -41.8}, {"minute": 1180.5, "zh": -46.2}, {"minute": 1181.4, "zh": -50.6}, {"minute": 1182.4, "zh": -38.8}, {"minute": 1183.3, "zh": -51.3}, {"minute": 1184.3, "zh": -50.6}, {"minute": 1185.3, "zh": -52.1}, {"minute": 1186.2, "zh": -51.0}, {"minute": 1187.2, "zh": -56.1}, {"minute": 1188.1, "zh": -49.5}, {"minute": 1189.1, "zh": -50.2}, {"minute": 1190.0, "zh": -41.4}, {"minute": 1191.0, "zh": -44.7}, {"minute": 1192.0, "zh": -52.8}, {"minute": 1192.9, "zh": -45.4}, {"minute": 1193.9, "zh": -41.4}, {"minute": 1194.8, "zh": -41.0}, {"minute": 1195.8, "zh": -42.5}, {"minute": 1196.7, "zh": -46.9}, {"minute": 1197.7, "zh": -52.1}, {"minute": 1198.7, "zh": -44.7}, {"minute": 1199.6, "zh": -43.2}, {"minute": 1200.6, "zh": -44.7}, {"minute": 1201.5, "zh": -52.4}, {"minute": 1202.5, "zh": -43.2}, {"minute": 1203.4, "zh": -42.5}, {"minute": 1204.4, "zh": -48.0}, {"minute": 1205.4, "zh": -42.5}, {"minute": 1206.3, "zh": -51.3}, {"minute": 1207.3, "zh": -35.5}, {"minute": 1208.2, "zh": -51.3}, {"minute": 1209.2, "zh": -42.5}, {"minute": 1210.1, "zh": -44.0}, {"minute": 1211.1, "zh": -45.8}, {"minute": 1212.1, "zh": -47.6}, {"minute": 1213.0, "zh": -47.3}, {"minute": 1214.0, "zh": -49.5}, {"minute": 1214.9, "zh": -45.1}, {"minute": 1215.9, "zh": -42.5}, {"minute": 1216.8, "zh": -38.8}, {"minute": 1217.8, "zh": -46.5}, {"minute": 1218.8, "zh": -45.8}, {"minute": 1219.7, "zh": -44.0}, {"minute": 1220.7, "zh": -41.8}, {"minute": 1221.6, "zh": -46.2}, {"minute": 1222.6, "zh": -38.1}, {"minute": 1223.5, "zh": -41.0}, {"minute": 1224.5, "zh": -44.7}, {"minute": 1225.5, "zh": -49.1}, {"minute": 1226.4, "zh": -42.9}, {"minute": 1227.4, "zh": -41.8}, {"minute": 1228.3, "zh": -39.9}, {"minute": 1229.3, "zh": -47.6}, {"minute": 1230.2, "zh": -44.7}, {"minute": 1231.2, "zh": -42.1}, {"minute": 1232.2, "zh": -42.5}, {"minute": 1233.1, "zh": -47.6}, {"minute": 1234.1, "zh": -44.0}, {"minute": 1235.0, "zh": -43.2}, {"minute": 1236.0, "zh": -41.2}, {"minute": 1236.9, "zh": -46.9}, {"minute": 1237.9, "zh": -41.2}, {"minute": 1238.9, "zh": -44.3}, {"minute": 1239.8, "zh": -42.9}, {"minute": 1240.8, "zh": -47.3}, {"minute": 1241.7, "zh": -41.4}, {"minute": 1242.7, "zh": -46.2}, {"minute": 1243.6, "zh": -40.7}, {"minute": 1244.6, "zh": -40.8}, {"minute": 1245.6, "zh": -46.2},
      {"minute": 1246.3, "zh": -46.5}, {"minute": 1247.2, "zh": -41.4}, {"minute": 1248.5, "zh": -49.9}, {"minute": 1249.5, "zh": -42.5}, {"minute": 1250.4, "zh": -42.5}, {"minute": 1251.7, "zh": -41.8}, {"minute": 1252.7, "zh": -46.9}, {"minute": 1253.6, "zh": -45.4}, {"minute": 1254.6, "zh": -54.1}, {"minute": 1255.5, "zh": -37.4}, {"minute": 1256.5, "zh": -53.5}, {"minute": 1257.4, "zh": -53.2}, {"minute": 1258.4, "zh": -48.4}, {"minute": 1259.4, "zh": -48.0}, {"minute": 1260.6, "zh": -47.6}, {"minute": 1261.9, "zh": -48.0}, {"minute": 1262.9, "zh": -43.1}, {"minute": 1263.8, "zh": -43.2}, {"minute": 1264.8, "zh": -48.0}, {"minute": 1265.7, "zh": -47.8}, {"minute": 1266.7, "zh": -48.4}, {"minute": 1267.7, "zh": -49.9}, {"minute": 1268.6, "zh": -46.9}, {"minute": 1269.6, "zh": -46.9}, {"minute": 1270.5, "zh": -50.6}, {"minute": 1271.5, "zh": -53.2}, {"minute": 1272.4, "zh": -53.9}, {"minute": 1273.4, "zh": -50.6}, {"minute": 1274.4, "zh": -43.2}, {"minute": 1275.3, "zh": -50.6}, {"minute": 1276.3, "zh": -51.0}, {"minute": 1277.2, "zh": -54.4}, {"minute": 1278.2, "zh": -52.8}, {"minute": 1279.1, "zh": -40.5}, {"minute": 1280.1, "zh": -44.7}, {"minute": 1281.1, "zh": -46.2}, {"minute": 1282.0, "zh": -49.5}, {"minute": 1283.0, "zh": -53.2}, {"minute": 1283.9, "zh": -38.8}, {"minute": 1284.9, "zh": -53.2}, {"minute": 1285.8, "zh": -42.1}, {"minute": 1286.8, "zh": -54.3}, {"minute": 1287.8, "zh": -42.1}, {"minute": 1288.7, "zh": -56.1}, {"minute": 1289.7, "zh": -38.8}, {"minute": 1290.6, "zh": -42.5}, {"minute": 1291.6, "zh": -38.8}, {"minute": 1292.5, "zh": -51.7}, {"minute": 1293.5, "zh": -46.2}, {"minute": 1294.5, "zh": -39.0}, {"minute": 1295.4, "zh": -44.7}, {"minute": 1296.4, "zh": -46.9}, {"minute": 1297.3, "zh": -48.4}, {"minute": 1298.3, "zh": -54.3}, {"minute": 1299.2, "zh": -48.4}, {"minute": 1300.2, "zh": -45.1}, {"minute": 1301.2, "zh": -53.5}, {"minute": 1302.1, "zh": -48.4}, {"minute": 1303.1, "zh": -53.2}, {"minute": 1304.0, "zh": -44.7}, {"minute": 1305.0, "zh": -48.8}, {"minute": 1305.9, "zh": -44.3}, {"minute": 1306.9, "zh": -38.6}, {"minute": 1307.9, "zh": -51.3}, {"minute": 1308.8, "zh": -44.7}, {"minute": 1309.8, "zh": -54.6}, {"minute": 1310.7, "zh": -38.8}, {"minute": 1311.7, "zh": -57.0}, {"minute": 1312.6, "zh": -46.5}, {"minute": 1313.6, "zh": -52.8}, {"minute": 1314.5, "zh": -43.2}, {"minute": 1315.5, "zh": -49.5}, {"minute": 1316.1, "zh": -59.8}, {"minute": 1317.1, "zh": -45.4}, {"minute": 1318.1, "zh": -50.6}, {"minute": 1319.0, "zh": -44.7}, {"minute": 1320.0, "zh": -41.2}, {"minute": 1320.9, "zh": -57.6}, {"minute": 1321.9, "zh": -44.9}, {"minute": 1322.8, "zh": -53.2}, {"minute": 1323.8, "zh": -48.4}, {"minute": 1324.8, "zh": -46.2}, {"minute": 1325.7, "zh": -45.8}, {"minute": 1326.7, "zh": -41.4}, {"minute": 1327.6, "zh": -41.8}, {"minute": 1328.6, "zh": -44.3}, {"minute": 1329.5, "zh": -42.5}, {"minute": 1330.5, "zh": -44.7}, {"minute": 1331.5, "zh": -53.2}, {"minute": 1332.4, "zh": -45.1}, {"minute": 1333.4, "zh": -49.1}, {"minute": 1334.3, "zh": -44.3}, {"minute": 1335.3, "zh": -58.7}, {"minute": 1336.2, "zh": -49.1}, {"minute": 1337.2, "zh": -41.0}, {"minute": 1338.2, "zh": -48.0}, {"minute": 1339.1, "zh": -38.8}, {"minute": 1340.1, "zh": -46.2}, {"minute": 1341.0, "zh": -40.7}, {"minute": 1342.0, "zh": -49.5}, {"minute": 1342.9, "zh": -57.8}, {"minute": 1343.9, "zh": -45.8}, {"minute": 1344.9, "zh": -57.8}, {"minute": 1345.8, "zh": -49.5}, {"minute": 1346.8, "zh": -38.5}, {"minute": 1347.7, "zh": -49.5}, {"minute": 1348.7, "zh": -37.2}, {"minute": 1349.6, "zh": -44.0}, {"minute": 1350.6, "zh": -49.5}, {"minute": 1351.6, "zh": -46.2}, {"minute": 1352.5, "zh": -52.8}, {"minute": 1353.5, "zh": -44.0}, {"minute": 1354.4, "zh": -45.4}, {"minute": 1355.4, "zh": -48.4}, {"minute": 1356.3, "zh": -46.2}, {"minute": 1357.3, "zh": -57.9}, {"minute": 1358.3, "zh": -46.2}, {"minute": 1359.2, "zh": -48.8}, {"minute": 1360.2, "zh": -45.3}, {"minute": 1361.1, "zh": -48.4}, {"minute": 1362.1, "zh": -50.2}, {"minute": 1363.0, "zh": -46.9}, {"minute": 1364.0, "zh": -49.9}, {"minute": 1365.0, "zh": -49.5}, {"minute": 1365.9, "zh": -35.3}, {"minute": 1366.9, "zh": -53.2}, {"minute": 1367.8, "zh": -41.4}, {"minute": 1368.8, "zh": -49.9}, {"minute": 1369.7, "zh": -46.9}, {"minute": 1370.7, "zh": -49.1}, {"minute": 1371.7, "zh": -47.6}, {"minute": 1372.6, "zh": -49.9}, {"minute": 1373.6, "zh": -51.7}, {"minute": 1374.5, "zh": -50.2}, {"minute": 1375.5, "zh": -57.8}, {"minute": 1376.4, "zh": -50.2}, {"minute": 1377.4, "zh": -48.0}, {"minute": 1378.4, "zh": -49.5}, {"minute": 1379.3, "zh": -47.3}, {"minute": 1380.3, "zh": -49.1}, {"minute": 1381.2, "zh": -59.8}, {"minute": 1382.2, "zh": -50.2}, {"minute": 1383.1, "zh": -48.0}, {"minute": 1383.8, "zh": -38.5}, {"minute": 1384.7, "zh": -49.5}, {"minute": 1385.7, "zh": -50.2}, {"minute": 1386.6, "zh": -44.7}, {"minute": 1387.6, "zh": -44.7}, {"minute": 1388.6, "zh": -50.2}, {"minute": 1389.5, "zh": -58.3}, {"minute": 1390.5, "zh": -42.5}, {"minute": 1391.4, "zh": -42.3}, {"minute": 1392.4, "zh": -55.0}, {"minute": 1393.3, "zh": -43.2}, {"minute": 1394.3, "zh": -44.0}, {"minute": 1395.3, "zh": -55.4}, {"minute": 1396.2, "zh": -42.9}, {"minute": 1397.2, "zh": -44.7}, {"minute": 1398.1, "zh": -41.0}, {"minute": 1399.1, "zh": -50.6}, {"minute": 1400.0, "zh": -42.5}, {"minute": 1401.0, "zh": -55.4}, {"minute": 1402.0, "zh": -44.7}, {"minute": 1402.9, "zh": -46.9}, {"minute": 1403.9, "zh": -39.6}, {"minute": 1404.8, "zh": -41.0}, {"minute": 1405.8, "zh": -39.6}, {"minute": 1406.7, "zh": -42.9}, {"minute": 1407.7, "zh": -45.4}, {"minute": 1408.7, "zh": -58.7}, {"minute": 1409.6, "zh": -48.4}, {"minute": 1410.6, "zh": -58.7}, {"minute": 1411.5, "zh": -38.3}, {"minute": 1412.5, "zh": -38.3}, {"minute": 1413.4, "zh": -59.2}, {"minute": 1414.4, "zh": -58.7}, {"minute": 1415.4, "zh": -58.7}, {"minute": 1416.3, "zh": -54.3}, {"minute": 1417.6, "zh": -53.0}, {"minute": 1418.8, "zh": null}, {"minute": 1420.1, "zh": -51.3}, {"minute": 1421.1, "zh": -48.0}, {"minute": 1422.1, "zh": -48.0}, {"minute": 1423.5, "zh": null}, {"minute": 1425.9, "zh": -41.0}, {"minute": 1426.5, "zh": -56.8}, {"minute": 1427.1, "zh": null}, {"minute": 1427.8, "zh": -46.7}, {"minute": 1428.8, "zh": -46.9}, {"minute": 1429.7, "zh": -48.4}, {"minute": 1430.7, "zh": -48.8}, {"minute": 1431.6, "zh": -43.6}, {"minute": 1432.6, "zh": -43.6}, {"minute": 1433.5, "zh": -49.1}, {"minute": 1434.5, "zh": -56.8}, {"minute": 1435.5, "zh": -40.5}, {"minute": 1436.4, "zh": -56.3}, {"minute": 1437.4, "zh": -40.3}
    ]
  },
  "layer": [
    {
      "data": {"name": "dcr"},
      "mark": {"type": "line", "strokeWidth": 2.1, "strokeJoin": "round", "clip": true, "invalid": "break-paths-filter-domains"},
      "encoding": {
        "x": {
          "field": "minute",
          "type": "quantitative",
          "scale": {"domain": [0, 1440], "nice": false, "zero": false},
          "axis": {
            "orient": "bottom",
            "title": null,
            "values": [0, 180, 360, 540, 720, 900, 1080, 1260],
            "labelExpr": "(datum.value < 600 ? '0' : '') + floor(datum.value / 60) + ':00'",
            "tickSize": 5,
            "labelPadding": 3.5,
            "grid": true,
            "gridColor": "#d0d0d0",
            "gridDash": [4, 2],
            "gridWidth": 0.9
          }
        },
        "y": {
          "field": "zh",
          "type": "quantitative",
          "scale": {"domain": [-60, 30], "nice": false, "zero": false},
          "axis": {
            "orient": "left",
            "title": "Zₕ [dBZ]",
            "titleFontSize": 20.5,
            "titleFontStyle": "italic",
            "titlePadding": 11,
            "values": [-60, -50, -40, -30, -20, -10, 0, 10, 20, 30],
            "format": "d",
            "tickSize": 5,
            "labelPadding": 3.5,
            "grid": true,
            "gridColor": "#d0d0d0",
            "gridDash": [4, 2],
            "gridWidth": 0.9,
            "gridOpacity": {"condition": {"test": "datum.value >= 30 || datum.value <= -60", "value": 0}, "value": 1}
          }
        },
        "color": {
          "datum": "Zₕ from DCR @ 163m",
          "type": "nominal",
          "scale": {"domain": ["Zₕ from DCR @ 163m", "Zₕ modeled from DD"], "range": ["#1f77b4", "#000000"]},
          "legend": {"title": null}
        }
      }
    },
    {
      "data": {"values": []},
      "mark": {"type": "point", "opacity": 0},
      "encoding": {
        "x": {
          "field": "minute",
          "type": "quantitative",
          "scale": {"domain": [0, 1440], "nice": false, "zero": false},
          "axis": {
            "orient": "bottom",
            "title": null,
            "values": [0, 60, 120, 180, 240, 300, 360, 420, 480, 540, 600, 660, 720, 780, 840, 900, 960, 1020, 1080, 1140, 1200, 1260, 1320, 1380, 1440],
            "labels": false,
            "domain": false,
            "grid": false,
            "tickSize": 3
          }
        },
        "y": {
          "field": "zh",
          "type": "quantitative",
          "scale": {"domain": [-60, 30], "nice": false, "zero": false},
          "axis": {
            "orient": "left",
            "title": null,
            "values": [-60, -58, -56, -54, -52, -50, -48, -46, -44, -42, -40, -38, -36, -34, -32, -30, -28, -26, -24, -22, -20, -18, -16, -14, -12, -10, -8, -6, -4, -2, 0, 2, 4, 6, 8, 10, 12, 14, 16, 18, 20, 22, 24, 26, 28, 30],
            "labels": false,
            "domain": false,
            "grid": false,
            "tickSize": 3
          }
        }
      }
    },
    {
      "data": {"values": []},
      "mark": {"type": "point", "opacity": 0},
      "encoding": {
        "x": {
          "field": "minute",
          "type": "quantitative",
          "scale": {"domain": [0, 1440], "nice": false, "zero": false},
          "axis": {
            "orient": "top",
            "title": "Reflectivity from RPG-Radiometer Physics RPG-FMCW-94 DCR and OTT HydroMet Parsivel2 disdrometer",
            "titleFontSize": 16.6,
            "titleFontStyle": "italic",
            "titlePadding": 6,
            "labels": false,
            "ticks": false,
            "domain": true,
            "domainColor": "black",
            "domainWidth": 1.1,
            "grid": false
          }
        }
      }
    },
    {
      "data": {"values": [{}]},
      "mark": {"type": "arc", "theta": -0.77, "theta2": 0.77, "outerRadius": 105, "innerRadius": 102.5, "color": {"gradient": "linear", "stops": [{"offset": 0, "color": "#7fd0ca"}, {"offset": 0.35, "color": "#2b8088"}, {"offset": 0.6, "color": "#15284f"}, {"offset": 1, "color": "#0f1035"}]}},
      "encoding": {
        "x": {"datum": 1239.2, "type": "quantitative", "scale": {"domain": [0, 1440], "nice": false, "zero": false}, "axis": null},
        "y": {"datum": 31.88, "type": "quantitative", "scale": {"domain": [-60, 30], "nice": false, "zero": false}, "axis": null}
      }
    },
    {
      "data": {"values": [{}]},
      "mark": {"type": "rect", "color": {"gradient": "linear", "x1": 0, "y1": 0, "x2": 0, "y2": 1, "stops": [{"offset": 0, "color": "#ffffff"}, {"offset": 0.3, "color": "#0f1035"}, {"offset": 1, "color": "#0f1035"}]}},
      "encoding": {
        "x": {"datum": 1281.4, "type": "quantitative", "scale": {"domain": [0, 1440], "nice": false, "zero": false}, "axis": null},
        "x2": {"datum": 1283.9},
        "y": {"datum": 45.36, "type": "quantitative", "scale": {"domain": [-60, 30], "nice": false, "zero": false}, "axis": null},
        "y2": {"datum": 39.7}
      }
    },
    {
      "data": {"values": [{}]},
      "mark": {"type": "text", "text": "A\u2002C\u2002T\u2002R\u2002I\u2002S", "font": "DejaVu Sans", "fontSize": 26, "color": "#0f1035", "align": "center", "baseline": "alphabetic"},
      "encoding": {
        "x": {"datum": 1237.3, "type": "quantitative", "scale": {"domain": [0, 1440], "nice": false, "zero": false}, "axis": null},
        "y": {"datum": 37.17, "type": "quantitative", "scale": {"domain": [-60, 30], "nice": false, "zero": false}, "axis": null}
      }
    },
    {
      "data": {"values": [{}]},
      "mark": {"type": "text", "text": "CCRES", "font": "DejaVu Sans", "fontSize": 16, "color": "#0f1035", "align": "center", "baseline": "alphabetic"},
      "encoding": {
        "x": {"datum": 1238.3, "type": "quantitative", "scale": {"domain": [0, 1440], "nice": false, "zero": false}, "axis": null},
        "y": {"datum": 34.63, "type": "quantitative", "scale": {"domain": [-60, 30], "nice": false, "zero": false}, "axis": null}
      }
    }
  ],
  "resolve": {"axis": {"x": "independent", "y": "independent"}}
}
